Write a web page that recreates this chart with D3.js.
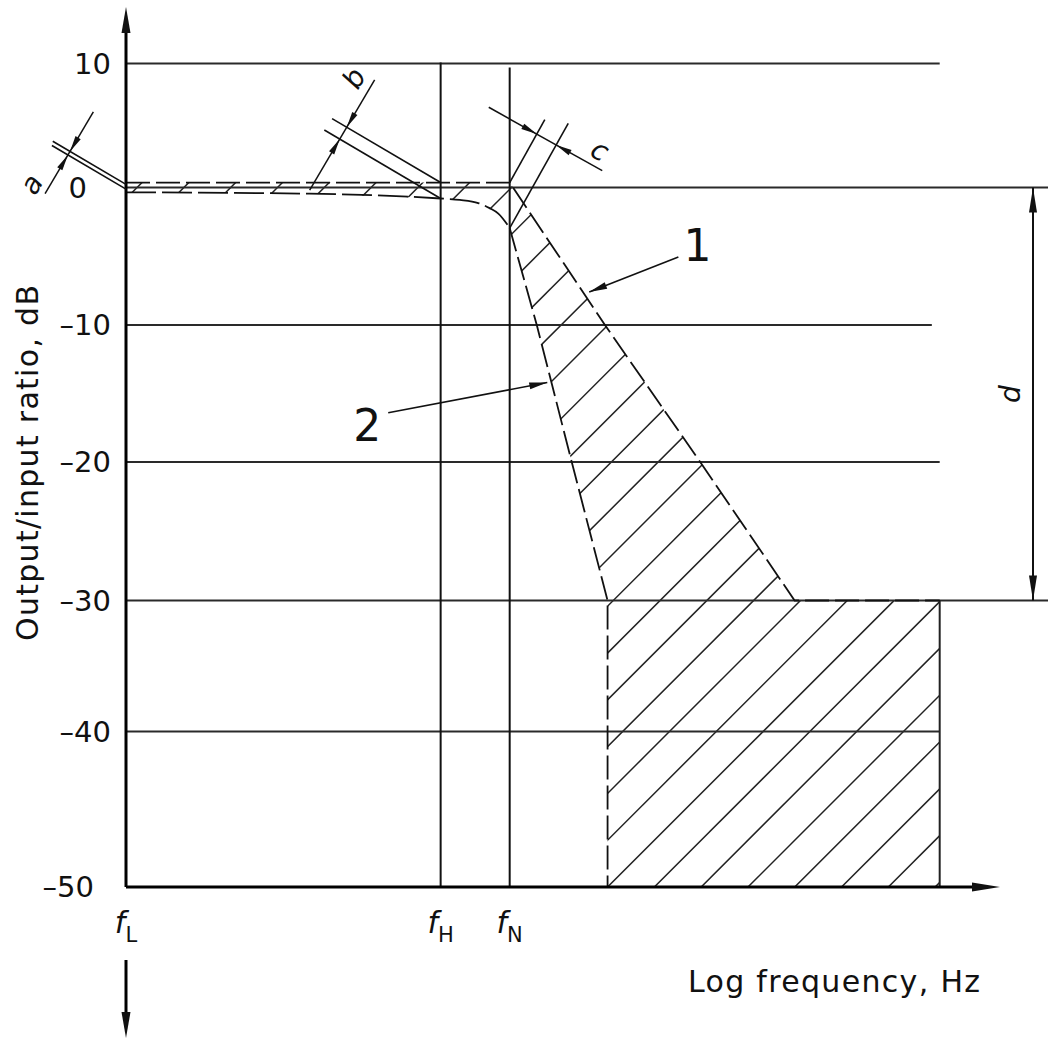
<!DOCTYPE html>
<html><head><meta charset="utf-8">
<script src="https://cdn.jsdelivr.net/npm/d3@7"></script>
<style>
body{margin:0;background:#fff;}
svg{display:block;background:#fff;}
text{font-family:"DejaVu Sans","Liberation Sans",sans-serif;fill:#111;}
</style>
</head><body>
<svg id="chart" width="1048" height="1041"></svg>
<script>
// ---------------- DATA ----------------
const yTicks = [10, 0, -10, -20, -30, -40, -50];
const yTickLabels = ["10", "0", "–10", "–20", "–30", "–40", "–50"];
const freqNames = ["L", "H", "N"];
const freqValues = [0, 3.60, 4.39];           // log-frequency units
// curve 1: upper limit
const upperX  = [0, 4.39, 5.48, 6.57, 7.65, 9.31];
const upperDb = [0.4, 0.4, -10, -20, -30, -30];
// curve 2: lower limit (passband + transition)
const lowerPassX  = [0, 2.1, 3.60, 3.82, 4.03, 4.16, 4.26, 4.39];
const lowerPassDb = [-0.35, -0.45, -0.8, -0.9, -1.13, -1.5, -1.9, -2.95];
// curve 2: lower limit (stopband)
const lowerStopX  = [4.39, 4.70, 5.10, 5.51, 5.51];
const lowerStopDb = [-2.95, -10, -20, -30, -50];
const xTitle = "Log frequency, Hz";
const yTitle = "Output/input ratio, dB";
const calloutNames = ["1", "2"];
const calloutTipX  = [5.30, 4.82];
const calloutTipDb = [-7.6, -14.2];
const calloutTailX = [6.32, 3.00];
const calloutTailDb= [-5.05, -16.4];
const calloutLabX  = [6.54, 2.76];
const calloutLabDb = [-4.2, -17.3];
const dimNames = ["a", "b", "c", "d"];

// ---------------- SCALES ----------------
const x = d3.scaleLinear().domain([0, 10]).range([126, 1000]);
const y = d3.scaleLinear().domain(yTicks).range([63.5, 187.5, 325, 462, 600.5, 731.5, 887]);

const svg = d3.select("#chart");
const INK = "#111";
const R = Math.PI / 180;
const add = (a, b) => [a[0] + b[0], a[1] + b[1]];
const mul = (v, k) => [v[0] * k, v[1] * k];
const dot = (a, b) => a[0] * b[0] + a[1] * b[1];
const sub = (a, b) => [a[0] - b[0], a[1] - b[1]];

function seg(p1, p2, w = 1.5, color = INK, dash = null) {
  const l = svg.append("line").attr("x1", p1[0]).attr("y1", p1[1]).attr("x2", p2[0]).attr("y2", p2[1])
    .attr("stroke", color).attr("stroke-width", w);
  if (dash) l.attr("stroke-dasharray", dash);
  return l;
}
function arrowHead(tip, dir, len = 16, hw = 3) {
  const n = Math.hypot(dir[0], dir[1]); const c = dir[0] / n, s = dir[1] / n;
  const bx = tip[0] - len * c, by = tip[1] - len * s;
  const pts = [tip, [bx - hw * s, by + hw * c], [bx + hw * s, by - hw * c]];
  svg.append("path").attr("d", "M" + pts.map(p => p.join(",")).join("L") + "Z").attr("fill", INK);
}
const P = (u, db) => [x(u), y(db)];

// ---------------- HATCHED TOLERANCE REGION ----------------
const upperPts = upperX.map((u, i) => [u, upperDb[i]]);
const lowerPassPts = lowerPassX.map((u, i) => [u, lowerPassDb[i]]);
const lowerStopPts = lowerStopX.map((u, i) => [u, lowerStopDb[i]]);
const lowerAll = lowerPassPts.concat(lowerStopPts.slice(1));
const poly = upperPts.concat([[upperX[upperX.length - 1], -50]]).concat(lowerAll.slice().reverse());
const lineLin = d3.line().x(d => x(d[0])).y(d => y(d[1]));
const lineMono = d3.line().x(d => x(d[0])).y(d => y(d[1])).curve(d3.curveMonotoneX);

svg.append("clipPath").attr("id", "hclip").append("path").attr("d", lineLin(poly) + "Z");
const corner = x(lowerStopX[lowerStopX.length - 1]) + y(-50);
const step = 46.8;
const cs = [];
for (let c = corner - step * 40; c <= corner + step * 12; c += step) cs.push(c);
svg.append("g").attr("clip-path", "url(#hclip)").selectAll("line").data(cs).join("line")
  .attr("x1", c => c - 950).attr("y1", 950).attr("x2", c => c).attr("y2", 0)
  .attr("stroke", "#222").attr("stroke-width", 1.5);

// ---------------- GRID ----------------
const gridEnd = [9.31, 10.6, 9.22, 9.31, 10.6, 9.31];
svg.selectAll(".grid").data(yTicks.slice(0, 6)).join("line").attr("class", "grid")
  .attr("x1", x(0)).attr("x2", (d, i) => x(gridEnd[i]))
  .attr("y1", d => y(d)).attr("y2", d => y(d))
  .attr("stroke", "#2a2a2a").attr("stroke-width", 2);

// vertical frequency lines fH, fN
const fTop = [10, 10, 9.6];
svg.selectAll(".fline").data(freqValues.slice(1)).join("line").attr("class", "fline")
  .attr("x1", d => x(d)).attr("x2", d => x(d))
  .attr("y1", (d, i) => y(fTop[i + 1]) - 1).attr("y2", y(-50))
  .attr("stroke", INK).attr("stroke-width", 2);

// right edge of hatched box (solid)
seg(P(upperX[upperX.length - 1], -30), P(upperX[upperX.length - 1], -50), 2, "#222");

// ---------------- LIMIT CURVES ----------------
const DASH = "24,6";
svg.append("path").attr("d", lineLin(upperPts)).attr("fill", "none").attr("stroke", INK)
  .attr("stroke-width", 1.8).attr("stroke-dasharray", DASH);
svg.append("path").attr("d", lineMono(lowerPassPts)).attr("fill", "none").attr("stroke", INK)
  .attr("stroke-width", 1.8).attr("stroke-dasharray", "30,6");
svg.append("path").attr("d", lineLin(lowerStopPts)).attr("fill", "none").attr("stroke", INK)
  .attr("stroke-width", 1.8).attr("stroke-dasharray", DASH);

// ---------------- AXES ----------------
seg([x(0), y(-50)], [x(0), 20], 3, "#000");
arrowHead([x(0), 7], [0, -1], 26, 4.5);
seg([x(0), y(-50)], [x(10) - 15, y(-50)], 3, "#000");
arrowHead([x(10), y(-50)], [1, 0], 28, 4.5);
seg([x(0), 960], [x(0), 1020], 3, "#000");
arrowHead([x(0), 1038], [0, 1], 26, 4.5);

// tick labels
const labShift = { "0": -24, "-50": -17 };
svg.selectAll(".ytl").data(yTicks).join("text").attr("class", "ytl")
  .attr("x", d => 111 + (labShift[String(d)] || 0)).attr("y", d => y(d)).attr("dy", "0.36em")
  .attr("text-anchor", "end").attr("font-size", 29).text((d, i) => yTickLabels[i]);

// frequency labels
const ft = svg.selectAll(".fl").data(freqValues).join("text").attr("class", "fl")
  .attr("x", d => x(d)).attr("y", 933).attr("text-anchor", "middle").attr("font-size", 30);
ft.append("tspan").attr("font-style", "italic").text("f");
ft.append("tspan").attr("font-size", 21).attr("dy", 9).text((d, i) => freqNames[i]);

// axis titles
svg.append("text").attr("x", 688).attr("y", 992).attr("font-size", 30)
  .attr("textLength", 292).attr("lengthAdjust", "spacing").text(xTitle);
svg.append("text").attr("transform", "translate(38," + 463 + ") rotate(-90)")
  .attr("text-anchor", "middle").attr("font-size", 30)
  .attr("textLength", 356).attr("lengthAdjust", "spacing").text(yTitle);

// ---------------- DIMENSIONS ----------------
const e = [-Math.cos(30.5 * R), -Math.sin(30.5 * R)];  // extension direction (up-left)
const p = [-e[1], e[0]];                               // dimension direction (up-right)
function dimLabel(pt, angle, txt) {
  svg.append("text").attr("transform", `translate(${pt[0]},${pt[1]}) rotate(${angle})`)
    .attr("text-anchor", "middle").attr("font-size", 28).attr("font-style", "italic").text(txt);
}
const angP = Math.atan2(p[1], p[0]) / R;

// a
{
  const A1 = P(0, 0.25), A2 = P(0, -0.12);
  seg(A1, add(A1, mul(e, 85)), 1.6);
  seg(A2, add(A2, mul(e, 86)), 1.6);
  const M = add(A1, mul(e, 65));
  const t2 = dot(sub(A2, A1), p);
  seg(add(M, mul(p, t2 - 45)), add(M, mul(p, 46)), 1.5);
  arrowHead(M, mul(p, -1));
  arrowHead(add(M, mul(p, t2)), p);
  dimLabel(add(add(M, mul(p, -48)), mul(e, 7)), angP, dimNames[0]);
}
// b
{
  const B1 = P(freqValues[1], 0.4), B2 = P(freqValues[1], -0.8);
  seg(B1, add(B1, mul(e, 126)), 1.6);
  seg(B2, add(B2, mul(e, 135)), 1.6);
  const M = add(B1, mul(e, 109));
  const t2 = dot(sub(B2, B1), p);
  seg(add(M, mul(p, -73)), add(M, mul(p, 55)), 1.5);
  arrowHead(M, mul(p, -1));
  arrowHead(add(M, mul(p, t2)), p);
  dimLabel(add(add(M, mul(p, 46)), mul(e, 9)), angP, dimNames[1]);
}
// c
{
  const q = [Math.cos(29.2 * R), Math.sin(29.2 * R)];
  const gd = [q[1], -q[0]];
  const C1 = P(freqValues[2], 0.4), C2 = P(freqValues[2], -2.95);
  seg(C1, add(C1, mul(gd, 72)), 1.6);
  seg(C2, add(C2, mul(gd, 120)), 1.6);
  const M = add(C1, mul(gd, 55.5));
  const t2 = dot(sub(C2, C1), q);
  seg(add(M, mul(q, -55)), add(M, mul(q, 75)), 1.5);
  arrowHead(M, q);
  arrowHead(add(M, mul(q, t2)), mul(q, -1));
  dimLabel(add(add(M, mul(q, 63)), mul(gd, 7)), 29.2, dimNames[2]);
}
// d
{
  const X = 1033;
  seg([X, y(0)], [X, y(-30)], 2);
  arrowHead([X, y(0)], [0, -1], 25, 4);
  arrowHead([X, y(-30)], [0, 1], 25, 4);
  dimLabel([1020, (y(0) + y(-30)) / 2], -90, dimNames[3]);
}

// ---------------- CALLOUTS 1, 2 ----------------
calloutNames.forEach((nm, i) => {
  const tip = P(calloutTipX[i], calloutTipDb[i]);
  const tail = P(calloutTailX[i], calloutTailDb[i]);
  seg(tail, tip, 1.6);
  arrowHead(tip, sub(tip, tail), 18, 3.5);
  const lp = P(calloutLabX[i], calloutLabDb[i]);
  svg.append("text").attr("x", lp[0]).attr("y", lp[1]).attr("dy", "0.36em")
    .attr("text-anchor", "middle").attr("font-size", 44).text(nm);
});
</script>
</body></html>
